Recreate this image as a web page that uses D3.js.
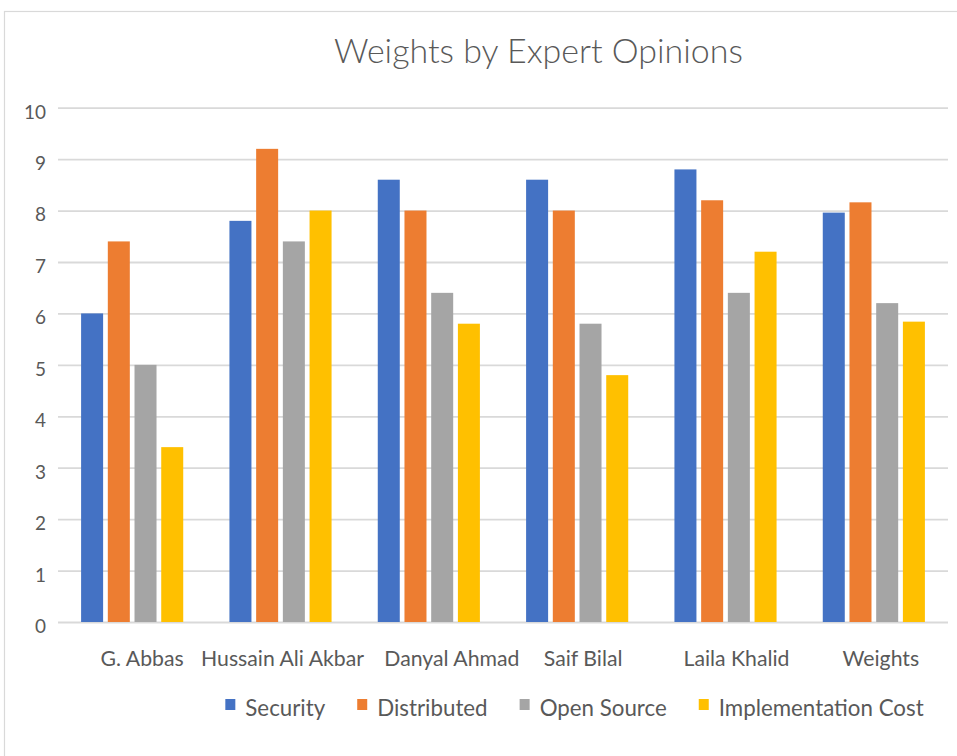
<!DOCTYPE html>
<html>
<head>
<meta charset="utf-8">
<script src="https://cdn.jsdelivr.net/npm/d3@7"></script>
<style>
  html, body { margin: 0; padding: 0; background: #fff; }
  svg { display: block; }
  text { font-family: Lato, "Open Sans", sans-serif; fill: #595959; }
</style>
</head>
<body>
<svg id="chart" width="957" height="756"></svg>
<script>
const categories = ["G. Abbas", "Hussain Ali Akbar", "Danyal Ahmad", "Saif Bilal", "Laila Khalid", "Weights"];
const seriesNames = ["Security", "Distributed", "Open Source", "Implementation Cost"];
const security = [6.0, 7.8, 8.6, 8.6, 8.8, 7.96];
const distributed = [7.4, 9.2, 8.0, 8.0, 8.2, 8.16];
const openSource = [5.0, 7.4, 6.4, 5.8, 6.4, 6.2];
const implementationCost = [3.4, 8.0, 5.8, 4.8, 7.2, 5.84];
const yTicks = [0, 1, 2, 3, 4, 5, 6, 7, 8, 9, 10];
const colors = ["#4472C4", "#ED7D31", "#A5A5A5", "#FFC000"];
const title = "Weights by Expert Opinions";

const seriesValues = [security, distributed, openSource, implementationCost];
const rows = categories.map((c, i) => ({
  category: c,
  values: seriesNames.map((s, k) => ({ series: s, value: seriesValues[k][i] }))
}));

const svg = d3.select("#chart");

// chart border
svg.append("rect")
  .attr("x", 4.5).attr("y", 11.5)
  .attr("width", 970).attr("height", 770)
  .attr("fill", "#fff").attr("stroke", "#d9d9d9").attr("stroke-width", 1.2);

const plot = { left: 58, right: 948, top: 107.7, bottom: 622 };

const x0 = d3.scaleBand().domain(categories).range([plot.left, plot.right]).paddingInner(0).paddingOuter(0);
const x1 = d3.scaleBand().domain(seriesNames).range([0, x0.bandwidth()]).paddingInner(0.176).paddingOuter(0.865);
const y = d3.scaleLinear().domain([0, 10]).range([plot.bottom, plot.top]);
const color = d3.scaleOrdinal().domain(seriesNames).range(colors);

function fitFont(sel, text, target, base) {
  const t = sel.append("text").attr("font-size", base).text(text);
  const w = t.node().getComputedTextLength();
  t.remove();
  return base * target / w;
}

// gridlines
const yAxis = d3.axisLeft(y).tickValues(yTicks).tickSize(-(plot.right - plot.left)).tickFormat(d3.format("d")).tickPadding(12);
const yFont = fitFont(svg, "10", 22, 20);
const gy = svg.append("g").attr("transform", `translate(${plot.left},0)`).call(yAxis);
gy.select(".domain").remove();
gy.selectAll(".tick line").attr("stroke", "#d9d9d9").attr("stroke-width", 1.8);
gy.selectAll(".tick text")
  .attr("font-size", yFont)
  .attr("font-family", "Lato, sans-serif")
  .attr("fill", "#595959")
  .attr("dy", "0.55em");

// bars
const groups = svg.append("g").selectAll("g")
  .data(rows).join("g")
  .attr("transform", d => `translate(${x0(d.category)},0)`);
groups.selectAll("rect")
  .data(d => d.values).join("rect")
  .attr("x", d => x1(d.series))
  .attr("width", x1.bandwidth())
  .attr("y", d => y(d.value))
  .attr("height", d => y(0) - y(d.value))
  .attr("fill", d => color(d.series));

// x axis labels (Excel places them slightly right of band centres)
const labelShift = [10, 2, 23, 6, 11, 7];
const xFont = fitFont(svg, "Hussain Ali Akbar", 163, 20);
const xAxis = d3.axisBottom(x0).tickSize(0).tickPadding(0);
const gx = svg.append("g").attr("transform", `translate(0,${plot.bottom})`).call(xAxis);
gx.select(".domain").remove();
gx.selectAll(".tick text")
  .attr("font-size", xFont)
  .attr("font-family", "Lato, sans-serif")
  .attr("fill", "#595959")
  .attr("y", 44)
  .attr("dy", 0)
  .attr("dx", (d, i) => labelShift[i]);

// title
const tFont = fitFont(svg, title, 416, 32);
svg.append("text")
  .attr("x", 538.5).attr("y", 63)
  .attr("text-anchor", "middle")
  .attr("font-size", tFont)
  .attr("font-weight", 300)
  .text(title);

// legend
const lFont = fitFont(svg, "Implementation Cost", 205, 20);
const legend = svg.append("g");
let cx = 0;
seriesNames.forEach((s, i) => {
  const g = legend.append("g").attr("transform", `translate(${cx},0)`);
  g.append("rect").attr("x", 0).attr("y", -17).attr("width", 10).attr("height", 11).attr("fill", colors[i]);
  const t = g.append("text").attr("x", 20).attr("y", 0).attr("font-size", lFont).text(s);
  const w = t.node().getComputedTextLength();
  cx += 20 + w + 32;
});
const totalW = cx - 32;
legend.attr("transform", `translate(${574.5 - totalW / 2},716)`);
</script>
</body>
</html>
